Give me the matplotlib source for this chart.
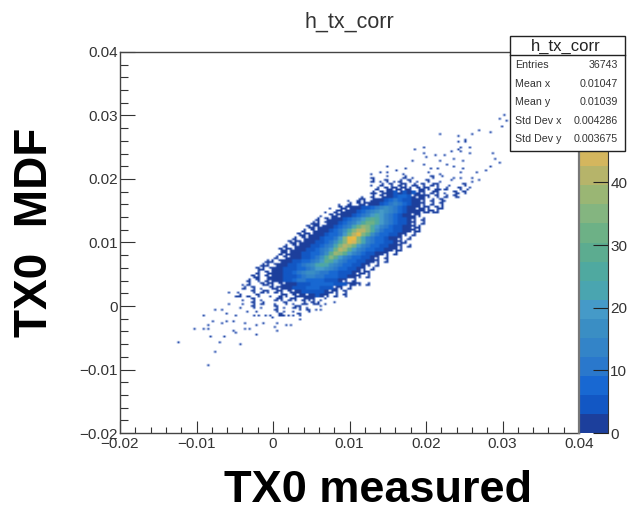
import numpy as np
import matplotlib
matplotlib.use('Agg')
import matplotlib.pyplot as plt
from matplotlib.colors import ListedColormap, BoundaryNorm
from matplotlib.patches import Rectangle
from matplotlib.ticker import MultipleLocator

plt.rcParams['font.family'] = ['Liberation Sans', 'DejaVu Sans']

W, H = 643, 511

# palette, bottom to top (20 contours)
level_colors = ['#1c3f9c', '#1257c4', '#1868d2', '#2a78cc', '#3384c8', '#3a8ec4', '#459ac8',
                '#4aa5b0', '#4fa9a0', '#5cac90', '#6db186', '#84b580', '#9ab674', '#b6b46a',
                '#d4b65e', '#e4b848', '#ecbc40', '#f0c838', '#f2dc30', '#f4ee28']
z_max = 60.8

x_ticks = [-0.02, -0.01, 0, 0.01, 0.02, 0.03, 0.04]
x_tick_labels = ['\u22120.02', '\u22120.01', '0', '0.01', '0.02', '0.03', '0.04']
y_ticks = [-0.02, -0.01, 0, 0.01, 0.02, 0.03, 0.04]
y_tick_labels = ['\u22120.02', '\u22120.01', '0', '0.01', '0.02', '0.03', '0.04']
z_ticks = [0, 10, 20, 30, 40]

stat_names = ['Entries', 'Mean x', 'Mean y', 'Std Dev x', 'Std Dev y']
stat_values = ['36743', '0.01047', '0.01039', '0.004286', '0.003675']
stat_rows = [65, 84, 102, 121, 139]

# dense part of the histogram, estimated in blocks of 2x2 bins.
# top row first, each char is count/3 in base 36, '.' is an empty block.
# at the speckled edge only some bins of a block are filled:
# ':' and ';' three bins, ',' and "'" one bin
block_x0, block_y_top, block = -0.006, 0.021, 0.0006
row_start = [31, 30, 31, 31, 32, 31, 29, 26, 24, 22, 21, 20, 19, 18, 17, 16, 15, 14, 13,
             12, 11, 11, 10, 8, 7, 6, 6, 5, 4, 4, 3, 2, 2, 2, 3, 5, 6, 8]
row_levels = [
    ",..'...,....'..,...'",
    ".,..'...:.,...;.'..,",
    ":.,;.,:.;.,.;..,.'",
    ",.:.;.:;.:,;.:;..,..;",
    ":.;:;:;:.;:;.:,:..;.'",
    ":,;:12:212:;.:;.,.;,;",
    ",.:.;:12332:;1;.;.:.;,",
    ",.:;.:1123432211;.:.;,",
    ",.:.;:;11234543211;.:.;",
    ",.;:;11223456543211;:;.;:",
    ",.:;:1123456765432111;:;:",
    ",.;:;112345787543211:;.",
    ":.;:11234579a97543221;.:",
    "::.;11234579bb97543221;.:",
    ";:;:1123458bdc975432211;:",
    ":.;:1123469ceec964332211;:",
    ";:;:1123347begca6433221;.:",
    ":.;:1123347cghc85433211;.:",
    ";:;:11223469cgfc85433221;:",
    ":.;:11223458cedb754332211;.:",
    ";:;:11223457beda754332211;:",
    ":;:11223346adca75432211;.:",
    ":.;:11223469ca75433221;.:",
    "::.;112233457a9754332211;.:",
    "::.;1122345689865433221;.:",
    ";:.;1122233457765433221;.:",
    ":.;:112234566544332221;:;",
    ";:.;:112223455443332211;.:",
    ":.;.:;112234433332221;.:",
    ":..;:;.;:1122233333222;1;.:",
    ":.;.,.;:;11222333222:;.:",
    ",..;.:;.:;.;:1222221:;.;",
    ":.,.;..,.:;.;:1:121;.:.;",
    ".,.;.,..:;.:;.:;;.,",
    ",.;.:..,.;.,.:.;:.,",
    ";.,..;.,.:;.,..",
    ",...;.,.,..;",
    ",..;.,.;",
]

# isolated filled bins around the blob
single_x = [-0.00836, -0.00749, -0.01233, -0.00693, -0.00436, -0.01019, -0.00911, -0.00836, -0.00836,
            -0.00810, -0.00636, -0.00911, -0.00793, -0.00658, -0.00593, -0.00510, -0.00475, -0.00610,
            -0.00749, -0.00658, -0.00527, -0.00475, -0.00379, -0.00301, -0.00213, -0.00366, -0.00213,
            -0.00118, 0.00026, 0.00061, 0.00170, 0.00244, 0.00344, 0.00048, -0.00562, -0.00475, -0.00409,
            -0.00571, -0.00431, -0.00301, -0.00388, -0.00257, -0.00192, -0.00335, -0.00039,
            -0.00126, 0.00266, 0.00157, 0.00070, 0.00614, 0.00571, 0.00636, 0.00797, 0.00680, 0.00527,
            0.00440, 0.00353, -0.00018,
            0.03033, 0.02954, 0.03054, 0.02998, 0.02837, 0.02697, 0.02619, 0.02174, 0.02414, 0.02510,
            0.02436, 0.02523, 0.01843, 0.01978, 0.01987, 0.02000, 0.02118, 0.02248, 0.02349, 0.02423,
            0.02466, 0.02562, 0.02588, 0.02466, 0.02872, 0.02915, 0.02959, 0.02858, 0.02771, 0.02662,
            0.02706, 0.02597, 0.02619, 0.02532, 0.02453, 0.02379, 0.02488, 0.02479, 0.01822, 0.02183,
            0.01617, 0.01499, 0.01399, 0.01303, 0.01747, 0.01965, 0.02074, 0.02140, 0.02270, 0.02358]
single_y = [-0.00940, -0.00719, -0.00583, -0.00583, -0.00604, -0.00378, -0.00378, -0.00378, -0.00320,
            -0.00473, -0.00473, -0.00168, -0.00247, -0.00263, -0.00247, -0.00247, -0.00168, -0.00131,
            -0.00063, -0.00079, -0.00394, -0.00420, -0.00284, -0.00352, -0.00457, -0.00378, -0.00315,
            -0.00273, -0.00341, -0.00394, -0.00315, -0.00315, -0.00220, -0.00284, 0.00199, 0.00147, 0.00079,
            0.00016, -0.00037, 0.00147, 0.00331, -0.00168, -0.00168, -0.00089, -0.00168,
            -0.00284, -0.00158, -0.00142, -0.00142, -0.00063, -0.00053, 0.00000, 0.00068, 0.00105, 0.00121,
            0.00016, -0.00063, -0.00194,
            0.02982, 0.02930, 0.02914, 0.02825, 0.02730, 0.02762, 0.02709, 0.02709, 0.02667, 0.02615,
            0.02588, 0.02578, 0.02447, 0.02499, 0.02404, 0.02336, 0.02352, 0.02368, 0.02415, 0.02457,
            0.02494, 0.02499, 0.02404, 0.02415, 0.02394, 0.02315, 0.02231, 0.02184, 0.02132, 0.02090,
            0.01985, 0.02011, 0.01958, 0.01827, 0.02011, 0.02300, 0.02289, 0.02168, 0.02263, 0.02273,
            0.02132, 0.02179, 0.02090, 0.01991, 0.02153, 0.02221, 0.02142, 0.02153, 0.02221, 0.02195]

# which bins of a block a speckle char fills, as (row, col)
speckle = {':': [(0, 0), (1, 1), (0, 1)], ';': [(0, 1), (1, 0), (1, 1)], ',': [(0, 0)], "'": [(1, 1)]}


def fx(px):
    return px / W


def fy(py):
    return 1 - py / H


# native binning is 200x200 over -0.02..0.04
edges = np.linspace(-0.02, 0.04, 201)
counts, _, _ = np.histogram2d(single_y, single_x, bins=[edges, edges])
for r, (start, levels) in enumerate(zip(row_start, row_levels)):
    y_bin = int(round((block_y_top - block * (r + 1) + 0.02) / 0.0003))
    for c, ch in enumerate(levels):
        if ch == '.':
            continue
        x_bin = int(round((block_x0 + block * (start + c) + 0.02) / 0.0003))
        if ch in speckle:
            for dr, dc in speckle[ch]:
                counts[y_bin + dr, x_bin + dc] = 1
        else:
            counts[y_bin:y_bin + 2, x_bin:x_bin + 2] = int(ch, 36) * 3

cmap = ListedColormap(level_colors)
cmap.set_bad('#1c4fc0', alpha=0)
bounds = np.linspace(0, z_max, 21)
norm = BoundaryNorm(bounds, cmap.N)

fig = plt.figure(figsize=(W / 100, H / 100), dpi=100)
ax = fig.add_axes([fx(120), fy(433), 459 / W, 381 / H])
ax.imshow(np.ma.masked_equal(counts, 0), origin='lower', extent=[-0.02, 0.04, -0.02, 0.04], aspect='auto',
          cmap=cmap, norm=norm, interpolation='bilinear', interpolation_stage='rgba')
ax.set_xlim(-0.02, 0.04)
ax.set_ylim(-0.02, 0.04)
ax.set_xticks(x_ticks, x_tick_labels)
ax.set_yticks(y_ticks, y_tick_labels)
ax.xaxis.set_minor_locator(MultipleLocator(0.002))
ax.yaxis.set_minor_locator(MultipleLocator(0.002))
ax.tick_params(axis='x', which='major', direction='in', length=8.6, width=0.8, color='#333333',
               labelsize=11, labelcolor='#333333', pad=3)
ax.tick_params(axis='x', which='minor', direction='in', length=4.3, width=0.8, color='#333333')
ax.tick_params(axis='y', which='major', direction='in', length=10.8, width=0.8, color='#333333',
               labelsize=11, labelcolor='#333333', pad=1.5)
ax.tick_params(axis='y', which='minor', direction='in', length=5.4, width=0.8, color='#333333')
for side in ['left', 'bottom', 'top']:
    ax.spines[side].set_color('#444444')
    ax.spines[side].set_linewidth(1.0)
ax.spines['right'].set_visible(False)

# colour bar
cax = fig.add_axes([fx(579), fy(433), 28.5 / W, 381 / H])
cax.pcolormesh([0, 1], bounds, (bounds[:-1] + 0.01).reshape(-1, 1), cmap=cmap, norm=norm)
cax.set_xticks([])
cax.set_ylim(0, z_max)
cax.set_yticks(z_ticks + [50, 60], [str(v) for v in z_ticks] + ['', ''])
cax.yaxis.tick_right()
cax.tick_params(axis='y', direction='in', length=10.8, width=0.8, color='#222222', labelsize=11,
                labelcolor='#333333', pad=2)
cax.spines['left'].set_color('#777777')
cax.spines['left'].set_linewidth(1.6)
cax.spines['right'].set_color('#333333')
cax.spines['right'].set_linewidth(0.8)
cax.spines['top'].set_visible(False)
cax.spines['bottom'].set_visible(False)

fig.text(fx(349), fy(22), 'h_tx_corr', ha='center', va='center', fontsize=15.5, color='#333333')
fig.text(fx(378), fy(490), 'TX0 measured', ha='center', va='center', fontsize=32.5, fontweight='bold',
         color='black')
fig.text(fx(35), fy(232), 'TX0  MDF', ha='center', va='center', rotation=90, fontsize=33, fontweight='bold',
         color='black')

# stats box
fig.add_artist(Rectangle((fx(509.5), fy(151)), 115 / W, 115 / H, transform=fig.transFigure,
                         facecolor='white', edgecolor='#222222', linewidth=1.0, zorder=5))
fig.add_artist(plt.Line2D([fx(509.5), fx(624.5)], [fy(55), fy(55)], color='#222222', linewidth=1.0, zorder=6))
fig.text(fx(566), fy(46), 'h_tx_corr', ha='center', va='center', fontsize=12, color='#222222', zorder=7)
for name, value, row in zip(stat_names, stat_values, stat_rows):
    fig.text(fx(515), fy(row), name, ha='left', va='center', fontsize=7.7, color='#333333', zorder=7)
    fig.text(fx(618), fy(row), value, ha='right', va='center', fontsize=7.7, color='#333333', zorder=7)

fig.savefig('out.png', dpi=100)
